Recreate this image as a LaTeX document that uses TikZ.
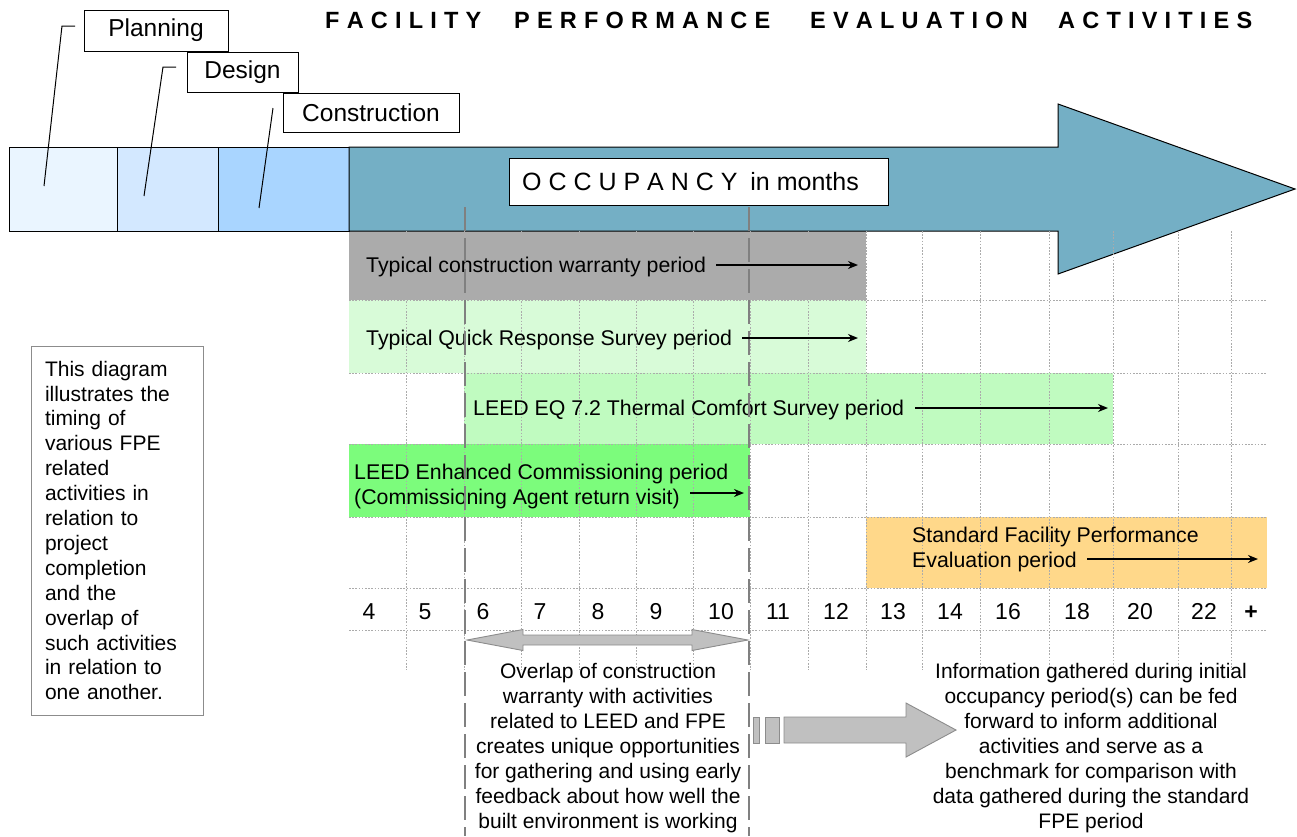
\documentclass[tikz,border=0pt]{standalone}
\usepackage{fontspec}
\setmainfont{Liberation Sans}
\usetikzlibrary{arrows.meta}

\definecolor{planfill}{HTML}{EAF5FF}
\definecolor{designfill}{HTML}{D3E8FF}
\definecolor{constrfill}{HTML}{A9D5FF}
\definecolor{occfill}{HTML}{74AFC5}
\definecolor{warrantyfill}{HTML}{ABABAB}
\definecolor{quickfill}{HTML}{D8FBD8}
\definecolor{thermalfill}{HTML}{C0FBC0}
\definecolor{cxfill}{HTML}{7CFC7C}
\definecolor{fpefill}{HTML}{FFD88A}
\definecolor{gridgray}{HTML}{ABABAB}
\definecolor{dashgray}{HTML}{808080}
\definecolor{arrowgray}{HTML}{C0C0C0}
\definecolor{arrowedge}{HTML}{8C8C8C}
\definecolor{notegray}{HTML}{8C8C8C}

% letter-spaced capitals for the heading
\newcommand\spacedcaps[1]{\foreach \c [count=\i] in {#1}{\ifnum\i>1\hspace{7.2pt}\fi\c}}

\tikzset{
  lbl/.style={draw=black, fill=white, line width=1pt, font=\fontsize{24.5}{28}\selectfont, inner sep=0pt},
  phase/.style={draw=black, line width=1pt, anchor=north west, inner sep=0pt},
  bar/.style={anchor=north west, inner sep=0pt, draw=none},
  bartext/.style={font=\fontsize{21.3}{25}\selectfont, inner sep=0pt, anchor=base west, align=left},
  bartwo/.style={font=\fontsize{21.3}{25}\selectfont, inner sep=0pt, anchor=west, align=left},
  period/.style={-{Stealth[length=10pt,width=8pt]}, line width=1.4pt},
  gridline/.style={draw=gridgray, line width=0.9pt, dash pattern=on 1.6pt off 1.6pt},
  overlapline/.style={draw=dashgray, line width=2.6pt, dash pattern=on 24pt off 7pt},
  num/.style={font=\fontsize{23}{27}\selectfont, inner sep=0pt, anchor=base},
  leader/.style={line width=1pt},
  note/.style={font=\fontsize{21}{25}\selectfont, align=center, inner sep=0pt},
  blockarrow/.style={fill=arrowgray, draw=arrowedge, line width=0.9pt},
  titleword/.style={font=\fontsize{23.5}{27}\selectfont\bfseries, inner sep=0pt, anchor=base west},
}

\begin{document}
\begin{tikzpicture}[x=1pt,y=-1pt]
\useasboundingbox (0,0) rectangle (1297,836);

% heading
\node[titleword] (t1) at (325,28) {\spacedcaps{F,A,C,I,L,I,T,Y}};
\node[titleword] (t2) at (514,28) {\spacedcaps{P,E,R,F,O,R,M,A,N,C,E}};
\node[titleword] (t3) at (810,28) {\spacedcaps{E,V,A,L,U,A,T,I,O,N}};
\node[titleword] (t4) at (1058,28) {\spacedcaps{A,C,T,I,V,I,T,I,E,S}};

% activity bars
\node[bar, fill=warrantyfill, minimum width=517pt, minimum height=69pt] (warranty) at (349,231) {};
\node[bar, fill=quickfill, minimum width=517pt, minimum height=73pt] (quick) at (349,300) {};
\node[bar, fill=thermalfill, minimum width=649pt, minimum height=71pt] (thermal) at (464,373) {};
\node[bar, fill=cxfill, minimum width=401pt, minimum height=73pt] (cx) at (349,444) {};
\node[bar, fill=fpefill, minimum width=401pt, minimum height=71pt] (fpe) at (866,517) {};

% pre-occupancy phases
\node[phase, fill=planfill, minimum width=108pt, minimum height=84pt] (planblk) at (9,147) {};
\node[phase, fill=designfill, minimum width=101pt, minimum height=84pt] (designblk) at (117,147) {};
\node[phase, fill=constrfill, minimum width=131pt, minimum height=84pt] (constrblk) at (218,147) {};

% occupancy arrow
\draw[fill=occfill, line width=1pt] (349,147) -- (1058,147) -- (1058,104) -- (1295,189)
  -- (1058,274) -- (1058,231) -- (349,231) -- cycle;

% month grid
\foreach \x in {406,464,521,579,636,693,750,808,866,922,980,1049,1113,1178,1231}
  \draw[gridline] (\x,231) -- (\x,670);
\foreach \y in {300,373,444,517,588,630}
  \draw[gridline] (349,\y) -- (1267,\y);

% phase labels
\node[lbl, minimum width=144pt, minimum height=41pt] (planlbl) at (156,30.5) {Planning};
\node[lbl, minimum width=111pt, minimum height=40pt] (designlbl) at (242.5,72) {Design};
\node[lbl, minimum width=176pt, minimum height=39pt] (constrlbl) at (371,112.5) {Construction};

\coordinate (planA) at (75,26);
\coordinate (planB) at (62,26);
\coordinate (planC) at (44,186);
\coordinate (designA) at (176,67);
\coordinate (designB) at (163,67);
\coordinate (designC) at (144,196);
\coordinate (constrA) at (273,108);
\coordinate (constrC) at (259,208);
\draw[leader] (planA) -- (planB) -- (planC);
\draw[leader] (designA) -- (designB) -- (designC);
\draw[leader] (constrA) -- (constrC);

\node[draw, fill=white, line width=1pt, minimum width=379pt, minimum height=47pt, inner sep=0pt]
  (occ) at (698.5,181.5) {};
\node[font=\fontsize{25}{30}\selectfont, inner sep=0pt, anchor=base west] (occtext) at (522,190.5)
  {O C C U P A N C Y\hspace{6pt} in months};

% bar texts
\node[bartext] (wtext) at (366,272.5) {Typical construction warranty period};
\node[bartext] (qtext) at (366,345.5) {Typical Quick Response Survey period};
\node[bartext] (ttext) at (473,415.5) {LEED EQ 7.2 Thermal Comfort Survey period};
\node[bartext] (ctext) at (354,479.5) {LEED Enhanced Commissioning period};
\node[bartext] (ctext2) at (354,504.5) {(Commissioning Agent return visit)};
\node[bartext] (ftext) at (912,542.5) {Standard Facility Performance};
\node[bartext] (ftext2) at (912,567.5) {Evaluation period};

% month numbers
\foreach \n/\x in {4/369,5/425,6/483,7/540,8/598,9/656,10/721,11/778,12/836,13/893,14/950,16/1008,18/1077,20/1140,22/1204}
  \node[num] (m\n) at (\x,619) {\n};
\node[num, font=\fontsize{23}{27}\selectfont\bfseries] (mplus) at (1251,619) {+};

% overlap window
\coordinate (ovlAtop) at (465,207);
\coordinate (ovlAbot) at (465,836);
\coordinate (ovlBtop) at (749,207);
\coordinate (ovlBbot) at (749,836);
\draw[overlapline] (ovlAtop) -- (ovlAbot);
\draw[overlapline] (ovlBtop) -- (ovlBbot);

% period arrows
\coordinate (w1) at (716,265);  \coordinate (w2) at (858,265);
\coordinate (q1) at (742,338);  \coordinate (q2) at (858,338);
\coordinate (th1) at (915,408); \coordinate (th2) at (1108,408);
\coordinate (c1) at (690,493);  \coordinate (c2) at (744,493);
\coordinate (f1) at (1087,559); \coordinate (f2) at (1258,559);
\draw[period] (w1) -- (w2);
\draw[period] (q1) -- (q2);
\draw[period] (th1) -- (th2);
\draw[period] (c1) -- (c2);
\draw[period] (f1) -- (f2);

% double-headed overlap arrow
\draw[blockarrow] (467,640) -- (523,629.5) -- (523,635) -- (692,635) -- (692,629.5) -- (748,640)
  -- (692,650.5) -- (692,645) -- (523,645) -- (523,650.5) -- cycle;

% feed-forward arrow
\draw[blockarrow] (753,717) rectangle (759,743);
\draw[blockarrow] (765,717) rectangle (779,743);
\draw[blockarrow] (784,717) -- (906,717) -- (906,703) -- (956,730) -- (906,757) -- (906,743)
  -- (784,743) -- cycle;

% explanatory texts
\node[draw=notegray, line width=1pt, minimum width=172pt, minimum height=369pt, text width=144pt,
  align=left, inner sep=0pt, font=\fontsize{21}{24.9}\selectfont] (explain) at (117,530.5)
  {This diagram\\illustrates the\\timing of\\various FPE\\related\\activities in\\relation to\\project\\completion\\and the\\overlap of\\such activities\\in relation to\\one another.};

\node[note] (overlaptext) at (608,748) {Overlap of construction\\warranty with activities\\related to LEED and FPE\\creates unique opportunities\\for gathering and using early\\feedback about how well the\\built environment is working};
\node[note] (feedtext) at (1091,748) {Information gathered during initial\\occupancy period(s) can be fed\\forward to inform additional\\activities and serve as a\\benchmark for comparison with\\data gathered during the standard\\FPE period};
\end{tikzpicture}
\end{document}
